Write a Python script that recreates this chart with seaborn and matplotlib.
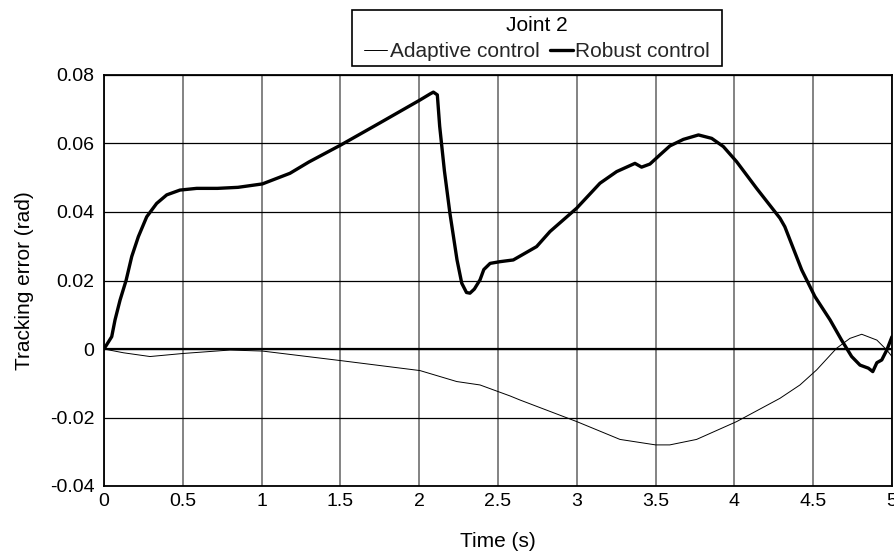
import matplotlib
matplotlib.use("Agg")
import matplotlib.pyplot as plt
from matplotlib.patches import Rectangle
import seaborn as sns
import pandas as pd

# Data
robust_t = [0.0, 0.049, 0.07, 0.102, 0.14, 0.176, 0.218, 0.271, 0.334, 0.398, 0.482, 0.588,
            0.72, 0.85, 1.005, 1.18, 1.3, 1.504, 1.75, 2.005, 2.07, 2.09, 2.115, 2.13, 2.16,
            2.195, 2.24, 2.27, 2.30, 2.322, 2.35, 2.386, 2.41, 2.45, 2.513, 2.597, 2.745,
            2.83, 2.999, 3.147, 3.253, 3.369, 3.411, 3.464, 3.528, 3.591, 3.676, 3.772,
            3.856, 3.93, 4.014, 4.141, 4.289, 4.32, 4.427, 4.511, 4.607, 4.68, 4.744, 4.797,
            4.85, 4.878, 4.904, 4.935, 4.967, 5.0]
robust_e = [0.0, 0.0036, 0.0085, 0.0143, 0.020, 0.027, 0.0328, 0.0386, 0.0425, 0.045, 0.0464,
            0.0469, 0.0469, 0.0472, 0.0482, 0.0513, 0.0546, 0.0596, 0.066, 0.0727, 0.0745,
            0.0750, 0.0742, 0.065, 0.052, 0.0396, 0.026, 0.0192, 0.0165, 0.0163, 0.0175,
            0.0202, 0.0232, 0.025, 0.0255, 0.026, 0.0299, 0.0343, 0.0411, 0.0484, 0.0518,
            0.0542, 0.0531, 0.054, 0.0567, 0.0593, 0.0612, 0.0625, 0.0615, 0.0591, 0.0547,
            0.0469, 0.0382, 0.0357, 0.0231, 0.0153, 0.0085, 0.0026, -0.0022, -0.0047,
            -0.0056, -0.0066, -0.004, -0.0032, -0.0003, 0.0036]

adaptive_t = [0.0, 0.123, 0.292, 0.503, 0.80, 1.005, 1.504, 2.005, 2.238, 2.386, 2.576, 2.64,
              3.0, 3.274, 3.5, 3.59, 3.76, 4.014, 4.289, 4.416, 4.522, 4.648, 4.733, 4.808,
              4.904, 4.967, 5.0]
adaptive_e = [0.0, -0.0011, -0.0022, -0.0013, -0.0003, -0.0006, -0.0034, -0.0063, -0.0095,
              -0.0105, -0.0137, -0.0149, -0.0212, -0.0264, -0.0280, -0.0280, -0.0264, -0.0212,
              -0.0144, -0.0105, -0.0061, 0.0002, 0.0031, 0.0043, 0.0026, -0.0003, -0.0022]

x_ticks = [0, 0.5, 1, 1.5, 2, 2.5, 3, 3.5, 4, 4.5, 5]
x_labels = ["0", "0.5", "1", "1.5", "2", "2.5", "3", "3.5", "4", "4.5", "5"]
y_ticks = [-0.04, -0.02, 0, 0.02, 0.04, 0.06, 0.08]
y_labels = ["-0.04", "-0.02", "0", "0.02", "0.04", "0.06", "0.08"]
legend_title = "Joint 2"

sns.set_theme(style="white")
plt.rcParams['font.family'] = ['Liberation Sans', 'DejaVu Sans']

FS = 14
FS_LAB = 15
W, H = 895, 555

fig = plt.figure(figsize=(8.95, 5.55), dpi=100)
ax = fig.add_axes([104 / W, 1 - 486 / H, 788 / W, 411 / H])

df_a = pd.DataFrame({"t": adaptive_t, "e": adaptive_e})
df_r = pd.DataFrame({"t": robust_t, "e": robust_e})

# grid
for xv in x_ticks:
    ax.axvline(xv, color="#6e6e6e", lw=1.2, zorder=0)
for yv in y_ticks:
    ax.axhline(yv, color="black", lw=0.9, zorder=0)
ax.axhline(0, color="black", lw=1.6, zorder=1)

sns.lineplot(data=df_a, x="t", y="e", ax=ax, color="black", linewidth=0.7,
             label="Adaptive control", sort=False, zorder=3)
sns.lineplot(data=df_r, x="t", y="e", ax=ax, color="black", linewidth=2.4,
             label="Robust control", sort=False, zorder=4)

ax.set_xlim(0, 5)
ax.set_ylim(-0.04, 0.08)
ax.set_xticks(x_ticks)
ax.set_xticklabels(x_labels)
ax.set_yticks(y_ticks)
ax.set_yticklabels(y_labels)
ax.tick_params(axis="both", length=0, labelsize=FS, colors="black")
ax.tick_params(axis="x", pad=5)
ax.tick_params(axis="y", pad=7)
ax.set_xlabel("Time (s)", fontsize=FS_LAB, color="black", labelpad=16)
ax.set_ylabel("Tracking error (rad)", fontsize=FS_LAB, color="black", labelpad=11)
for s in ax.spines.values():
    s.set_color("black")
    s.set_linewidth(1.3)

handles, labels = ax.get_legend_handles_labels()
if ax.get_legend():
    ax.get_legend().remove()

# legend frame sized to match the reference box
fig.patches.append(Rectangle((352 / W, 1 - 66 / H), 370 / W, 56 / H,
                             transform=fig.transFigure, facecolor="white",
                             edgecolor="black", linewidth=1.2, zorder=5))
fig.text(537 / W, 1 - 25.5 / H, legend_title, ha="center", va="center",
         fontsize=FS_LAB, color="black", zorder=6)
leg = fig.legend(handles, labels, loc="center", bbox_to_anchor=(537 / W, 1 - 51.5 / H),
                 bbox_transform=fig.transFigure, ncol=2, fontsize=FS_LAB,
                 frameon=False, handlelength=1.1, handletextpad=0.12,
                 columnspacing=0.5, borderpad=0.0, borderaxespad=0.0)
leg.set_zorder(6)

fig.savefig("out.png", dpi=100)
